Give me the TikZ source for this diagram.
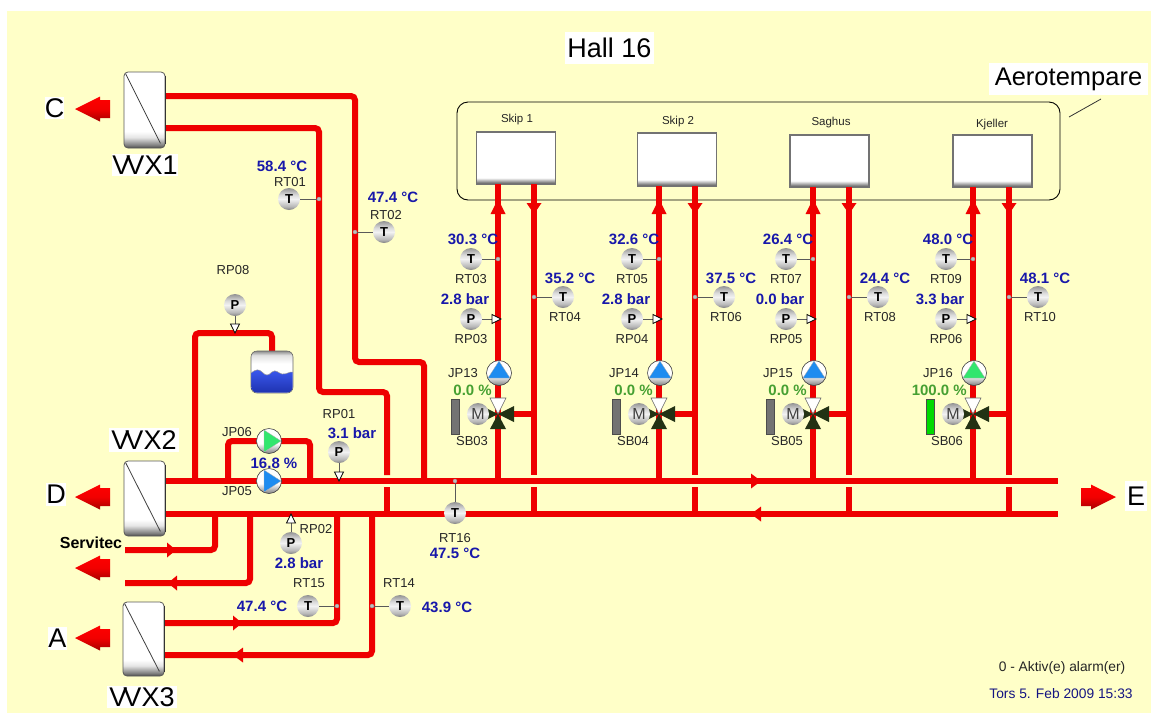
\documentclass[tikz,border=0pt]{standalone}
\usepackage{fontspec}
\setmainfont{Liberation Sans}
\definecolor{bgyellow}{RGB}{255,255,200}
\definecolor{pipered}{RGB}{238,0,0}
\definecolor{valblue}{RGB}{24,24,170}
\definecolor{valgreen}{RGB}{70,160,50}
\definecolor{pblue}{RGB}{30,140,240}
\definecolor{pgreen}{RGB}{50,230,110}
\definecolor{darkvalve}{RGB}{35,50,20}
\definecolor{dateblue}{RGB}{20,20,130}
\definecolor{tanktop}{RGB}{60,90,240}
\definecolor{tankbot}{RGB}{30,50,175}
\pgfdeclareverticalshading{hxshade}{100bp}{color(0bp)=(black!70); color(25bp)=(black!70); color(27bp)=(black!50); color(32bp)=(black!10); color(36bp)=(white); color(100bp)=(white)}
\pgfdeclareverticalshading{unitshade}{100bp}{color(0bp)=(black!75); color(25bp)=(black!75); color(27bp)=(black!45); color(31bp)=(white); color(100bp)=(white)}
\pgfdeclareverticalshading{gaugeshade}{100bp}{color(0bp)=(black!50); color(25bp)=(black!50); color(33bp)=(black!28); color(50bp)=(black!5); color(60bp)=(black!15); color(75bp)=(black!42); color(100bp)=(black!42)}
\pgfdeclareverticalshading{pumpshade}{100bp}{color(0bp)=(black!50); color(25bp)=(black!50); color(45bp)=(white); color(100bp)=(white)}
\pgfdeclareverticalshading{tankshade}{100bp}{color(0bp)=(white); color(60bp)=(white); color(70bp)=(black!12); color(75bp)=(black!45); color(100bp)=(black!45)}
\tikzset{
  pipe/.style={line width=6pt,draw=pipered,rounded corners=4pt},
  hx/.style={shape=rectangle,rounded corners=4pt,draw=black!65,line width=.8pt,shading=hxshade,minimum width=41pt,inner sep=0pt},
  unitbox/.style={shape=rectangle,draw=black!55,line width=1.3pt,shading=unitshade,minimum width=79pt,minimum height=52pt,inner sep=0pt},
  gauge/.style={shape=circle,minimum size=22pt,inner sep=0pt,shading=gaugeshade,font=\fontsize{13}{13}\selectfont\bfseries},
  motor/.style={gauge,font=\fontsize{16}{16}\selectfont\color{black!75}},
  pumpc/.style={shape=circle,minimum size=25pt,inner sep=0pt,draw=black!75,line width=.6pt,shading=pumpshade},
  stem/.style={draw=black!65,line width=.9pt},
  tag/.style={font=\fontsize{13}{13}\selectfont,text=black!85,inner sep=0pt},
  val/.style={font=\fontsize{15}{15}\selectfont\bfseries,text=valblue,inner sep=0pt},
  pct/.style={font=\fontsize{15}{15}\selectfont\bfseries,text=valgreen,inner sep=0pt},
  bigtext/.style={font=\fontsize{27}{27}\selectfont,fill=white,inner sep=0pt,text=black},
  unitlabel/.style={font=\fontsize{11.5}{11.5}\selectfont,text=black!85,inner sep=0pt},
  tap/.style={shape=circle,minimum size=4pt,inner sep=0pt,fill=black!25,draw=black!40,line width=.3pt},
}
% flow arrow on a pipe: x, y, rotation, length
\newcommand\flowarrow[4]{\fill[pipered,shift={(#1,#2)},rotate=#3] (0,-7.5) -- (#4,0) -- (0,7.5) -- cycle;}
% big arrow, pointing left or right: tip x, y, sign
\newcommand\bigarrow[3]{\shade[top color=red,bottom color=red!65!black,middle color=red!95!black,shift={(#1,#2)},xscale=#3] (0,0) -- (25,-12.5) -- (25,-9) -- (35,-9) -- (35,9) -- (25,9) -- (25,12.5) -- cycle;}
% small white pressure-tap triangle: tip x, y, rotation
\newcommand\ptri[3]{\fill[white,draw=black,line width=.8pt,shift={(#1,#2)},rotate=#3] (0,0) -- (-9,-4.5) -- (-9,4.5) -- cycle;}
% pump: name, x, y, rotation, colour
\newcommand\pumpsym[5]{\node[pumpc] (#1) at (#2,#3) {};
  \fill[#5,draw=black!30,line width=.3pt,shift={(#1.center)},rotate=#4] (-5,-11) -- (12,0) -- (-5,11) -- cycle;}
\begin{document}
\begin{tikzpicture}[x=1pt,y=-1pt]
\useasboundingbox (0,0) rectangle (1151,713);
\fill[white] (0,0) rectangle (1151,713);
\fill[bgyellow] (7,11) rectangle (1151,713);

% ---- junction coordinates
\coordinate (v1a) at (165,96);
\coordinate (v1b) at (165,128);
\coordinate (v2a) at (165,481);
\coordinate (v2b) at (165,514);
\coordinate (v3a) at (164,623);
\coordinate (v3b) at (164,655);
\coordinate (mainA) at (1058,481);
\coordinate (mainB) at (1058,514);

% ---- pipes
\draw[pipe] (v2a) -- (mainA);
\draw[pipe] (v2b) -- (mainB);
\draw[pipe] (v1a) -- (355,96) -- (355,362) -- (424,362) -- (424,481);
\draw[pipe] (v1b) -- (319,128) -- (319,392) -- (387,392) -- (387,475);
\draw[pipe] (387,487) -- (387,514);
\draw[pipe] (195,481) -- (195,333) -- (272,333) -- (272,352);
\draw[pipe] (228,481) -- (228,441) -- (310,441) -- (310,481);
\draw[pipe] (125,550) -- (215,550) -- (215,514);
\draw[pipe] (125,583) -- (250,583) -- (250,514);
\draw[pipe] (v3a) -- (337,623) -- (337,514);
\draw[pipe] (v3b) -- (372,655) -- (372,514);

\flowarrow{751}{481}{0}{10}
\flowarrow{761}{514}{180}{10}
\flowarrow{167}{550}{0}{9}
\flowarrow{177}{583}{180}{9}
\flowarrow{233}{623}{0}{9}
\flowarrow{243}{655}{180}{10}

% ---- heat exchangers
\node[hx,minimum height=76pt] (VVX1) at (144.5,110) {};
\node[hx,minimum height=75pt] (VVX2) at (144.5,498.5) {};
\node[hx,minimum height=74pt] (VVX3) at (143.5,639) {};
\foreach \h in {VVX1,VVX2,VVX3}{
  \draw[black!75,line width=.8pt] ([xshift=2pt,yshift=-2pt]\h.north west) -- ([xshift=-5pt,yshift=5pt]\h.south east);
  \draw[black!80,line width=1.4pt] ([yshift=-4pt]\h.north east) -- ([yshift=4pt]\h.south east);
}
\node[bigtext,minimum width=66pt,minimum height=22pt] (lv1) at (145,165) {V\kern-4ptVX1};
\node[bigtext,minimum width=70pt,minimum height=24pt] (lv2) at (144,440) {V\kern-4ptVX2};
\node[bigtext,minimum width=70pt,minimum height=22pt] (lv3) at (142,697) {V\kern-4ptVX3};

\node[bigtext,minimum width=19pt,minimum height=22pt] (lC) at (54.5,108) {C};
\node[bigtext,minimum width=20pt,minimum height=23pt] (lD) at (56,494.5) {D};
\node[bigtext,minimum width=19pt,minimum height=23pt] (lA) at (57.5,638.5) {A};
\node[bigtext,minimum width=22pt,minimum height=30pt] (lE) at (1136,496) {E};
\bigarrow{75}{109}{1}
\bigarrow{75}{497}{1}
\bigarrow{75}{568}{1}
\bigarrow{75}{638}{1}
\bigarrow{1116}{497}{-1}
\node[font=\fontsize{16}{16}\selectfont\bfseries,inner sep=0pt] (servitec) at (91,543) {Servitec};

% ---- title and enclosure
\node[bigtext,minimum width=89pt,minimum height=32pt] (hall) at (609.5,48) {Hall 16};
\node[bigtext,font=\fontsize{25.5}{25.5}\selectfont,minimum width=159pt,minimum height=32pt] (aero) at (1068.5,79) {Aerotempare};
\draw[black,line width=.9pt,rounded corners=11pt] (457,102) rectangle (1060,200);
\draw[black!80,line width=.8pt] (1069,117) -- (1101,99);

% ---- consumer units
\node[unitbox,minimum height=52pt] (U1) at (516,158) {};
\node[unitbox,minimum height=53pt] (U2) at (677,159.5) {};
\node[unitbox,minimum height=52pt] (U3) at (829.5,161) {};
\node[unitbox,minimum height=52pt] (U4) at (992.5,161) {};
\node[unitlabel] (n1) at (517,120) {Skip 1};
\node[unitlabel] (n2) at (678,122) {Skip 2};
\node[unitlabel] (n3) at (831,123) {Saghus};
\node[unitlabel] (n4) at (992,125) {Kjeller};

% ---- the four consumer columns
\foreach \dx/\tA/\tB/\vA/\vB/\pN/\vP/\jp/\pc/\pcol/\sb/\barcol/\yb in {
  0/03/04/30.3/35.2/03/2.8/13/0.0/pblue/03/black!55/184,
  161/05/06/32.6/37.5/04/2.8/14/0.0/pblue/04/black!55/186,
  315/07/08/26.4/24.4/05/0.0/15/0.0/pblue/05/black!55/187,
  475/09/10/48.0/48.1/06/3.3/16/100.0/pgreen/06/green!85!black/187}{
\begin{scope}[shift={(\dx,0)}]
  \coordinate (sup\jp) at (498,\yb);
  \coordinate (ret\jp) at (534,\yb);
  \coordinate (tapA\jp) at (498,259);
  \coordinate (tapB\jp) at (534,297);
  \coordinate (tipP\jp) at (501,319);
  \coordinate (mix\jp) at (498,414);
  \draw[pipe] (sup\jp) -- (498,481);
  \draw[pipe] (ret\jp) -- (534,475);
  \draw[pipe] (534,487) -- (534,514);
  \draw[pipe] (534,414) -- (510,414);
  \flowarrow{498}{214}{90}{15}
  \flowarrow{534}{203}{-90}{11}
  % temperature sensors
  \node[gauge] (RT\tA) at (471,259) {T};
  \node[gauge] (RT\tB) at (563,297) {T};
  \draw[stem] (RT\tA) -- (tapA\jp);
  \draw[stem] (RT\tB) -- (tapB\jp);
  \node[tap] at (tapA\jp) {};
  \node[tap] at (tapB\jp) {};
  \node[tag] at (471,279) {RT\tA};
  \node[tag] at (565,317) {RT\tB};
  \node[val] at (473,239) {\vA\ °C};
  \node[val] at (570,278) {\vB\ °C};
  % pressure sensor
  \node[gauge] (RP\pN) at (471,319) {P};
  \draw[stem] (RP\pN) -- (tipP\jp);
  \ptri{501}{319}{0}
  \node[tag] at (471,339) {RP\pN};
  \node[val] at (465,299) {\vP\ bar};
  % pump
  \pumpsym{JP\jp}{499}{373}{90}{\pcol}
  \node[tag] at (463,373) {JP\jp};
  \node[pct,anchor=east] at (492,390) {\pc\ \%};
  % mixing valve
  \fill[white,draw=black!60,line width=.6pt] (mix\jp) -- (490,398) -- (506,398) -- cycle;
  \fill[darkvalve] (mix\jp) -- (490,429) -- (506,429) -- cycle;
  \fill[darkvalve] (mix\jp) -- (514,406) -- (514,422) -- cycle;
  \fill[darkvalve] (mix\jp) -- (482,406) -- (482,422) -- cycle;
  \node[motor] (M\jp) at (478,414) {M};
  \draw[line width=.6pt,draw=black!70,fill=\barcol] (451,399) rectangle (459,434);
  \node[tag] at (472,441) {SB\sb};
\end{scope}}

% ---- left part sensors
\node[shape=rectangle,rounded corners=6pt,draw=black!60,line width=.6pt,minimum width=42pt,minimum height=42pt,inner sep=0pt,shading=tankshade] (tank) at (272,372) {};
\begin{scope}
  \clip[rounded corners=6pt] (251.3,351.3) rectangle (292.7,392.7);
  \shade[bottom color=tankbot,top color=tanktop,draw=black!40,line width=.5pt] (251,373) .. controls (256,369) and (259,369) .. (262,372) .. controls (266,376) and (268,376) .. (272,372) .. controls (276,369) and (278,373) .. (282,374) .. controls (286,375) and (290,371) .. (293,372) -- (293,393) -- (251,393) -- cycle;
\end{scope}

\coordinate (tipRP08) at (235,333);
\node[gauge] (RP08) at (235,305) {P};
\draw[stem] (RP08) -- (tipRP08);
\ptri{235}{333}{-90}
\node[tag] at (233,270) {RP08};

\pumpsym{JP06}{269}{441}{0}{pgreen}
\pumpsym{JP05}{269}{481}{0}{pblue}
\node[tag] at (237,432) {JP06};
\node[tag] at (237,491) {JP05};
\node[val] at (274,463) {16.8 \%};

\coordinate (tipRP01) at (339,481);
\node[gauge] (RP01) at (339,452) {P};
\draw[stem] (RP01) -- (tipRP01);
\ptri{339}{481}{-90}
\node[tag] at (339,414) {RP01};
\node[val] at (352,433) {3.1 bar};

\coordinate (tipRP02) at (291,514);
\node[gauge] (RP02) at (291,543) {P};
\draw[stem] (RP02) -- (tipRP02);
\ptri{291}{514}{90}
\node[tag] at (316,529) {RP02};
\node[val] at (299,563) {2.8 bar};

\coordinate (tap15) at (337,606);
\node[gauge] (RT15) at (308,606) {T};
\draw[stem] (RT15) -- (tap15);
\node[tap] at (tap15) {};
\node[tag] at (309,583) {RT15};
\node[val] at (262,606) {47.4 °C};

\coordinate (tap14) at (372,606);
\node[gauge] (RT14) at (400,606) {T};
\draw[stem] (RT14) -- (tap14);
\node[tap] at (tap14) {};
\node[tag] at (399,583) {RT14};
\node[val] at (447,607) {43.9 °C};

\coordinate (tap16) at (455,481);
\node[gauge] (RT16) at (455,513) {T};
\draw[stem] (RT16) -- (tap16);
\node[tap] at (tap16) {};
\node[tag] at (455,538) {RT16};
\node[val] at (455,553) {47.5 °C};

\coordinate (tap01) at (319,199);
\node[gauge] (RT01) at (289,199) {T};
\draw[stem] (RT01) -- (tap01);
\node[tap] at (tap01) {};
\node[tag] at (290,182) {RT01};
\node[val] at (282,166) {58.4 °C};

\coordinate (tap02) at (355,232);
\node[gauge] (RT02) at (384,232) {T};
\draw[stem] (RT02) -- (tap02);
\node[tap] at (tap02) {};
\node[tag] at (386,215) {RT02};
\node[val] at (393,197) {47.4 °C};

% ---- status
\node[tag,font=\fontsize{13.8}{13.8}\selectfont] (alarm) at (1062,668) {0 - Aktiv(e) alarm(er)};
\node[tag,font=\fontsize{13.8}{13.8}\selectfont,text=dateblue] (date) at (1061,694) {Tors 5. Feb 2009 15:33};
\end{tikzpicture}
\end{document}
